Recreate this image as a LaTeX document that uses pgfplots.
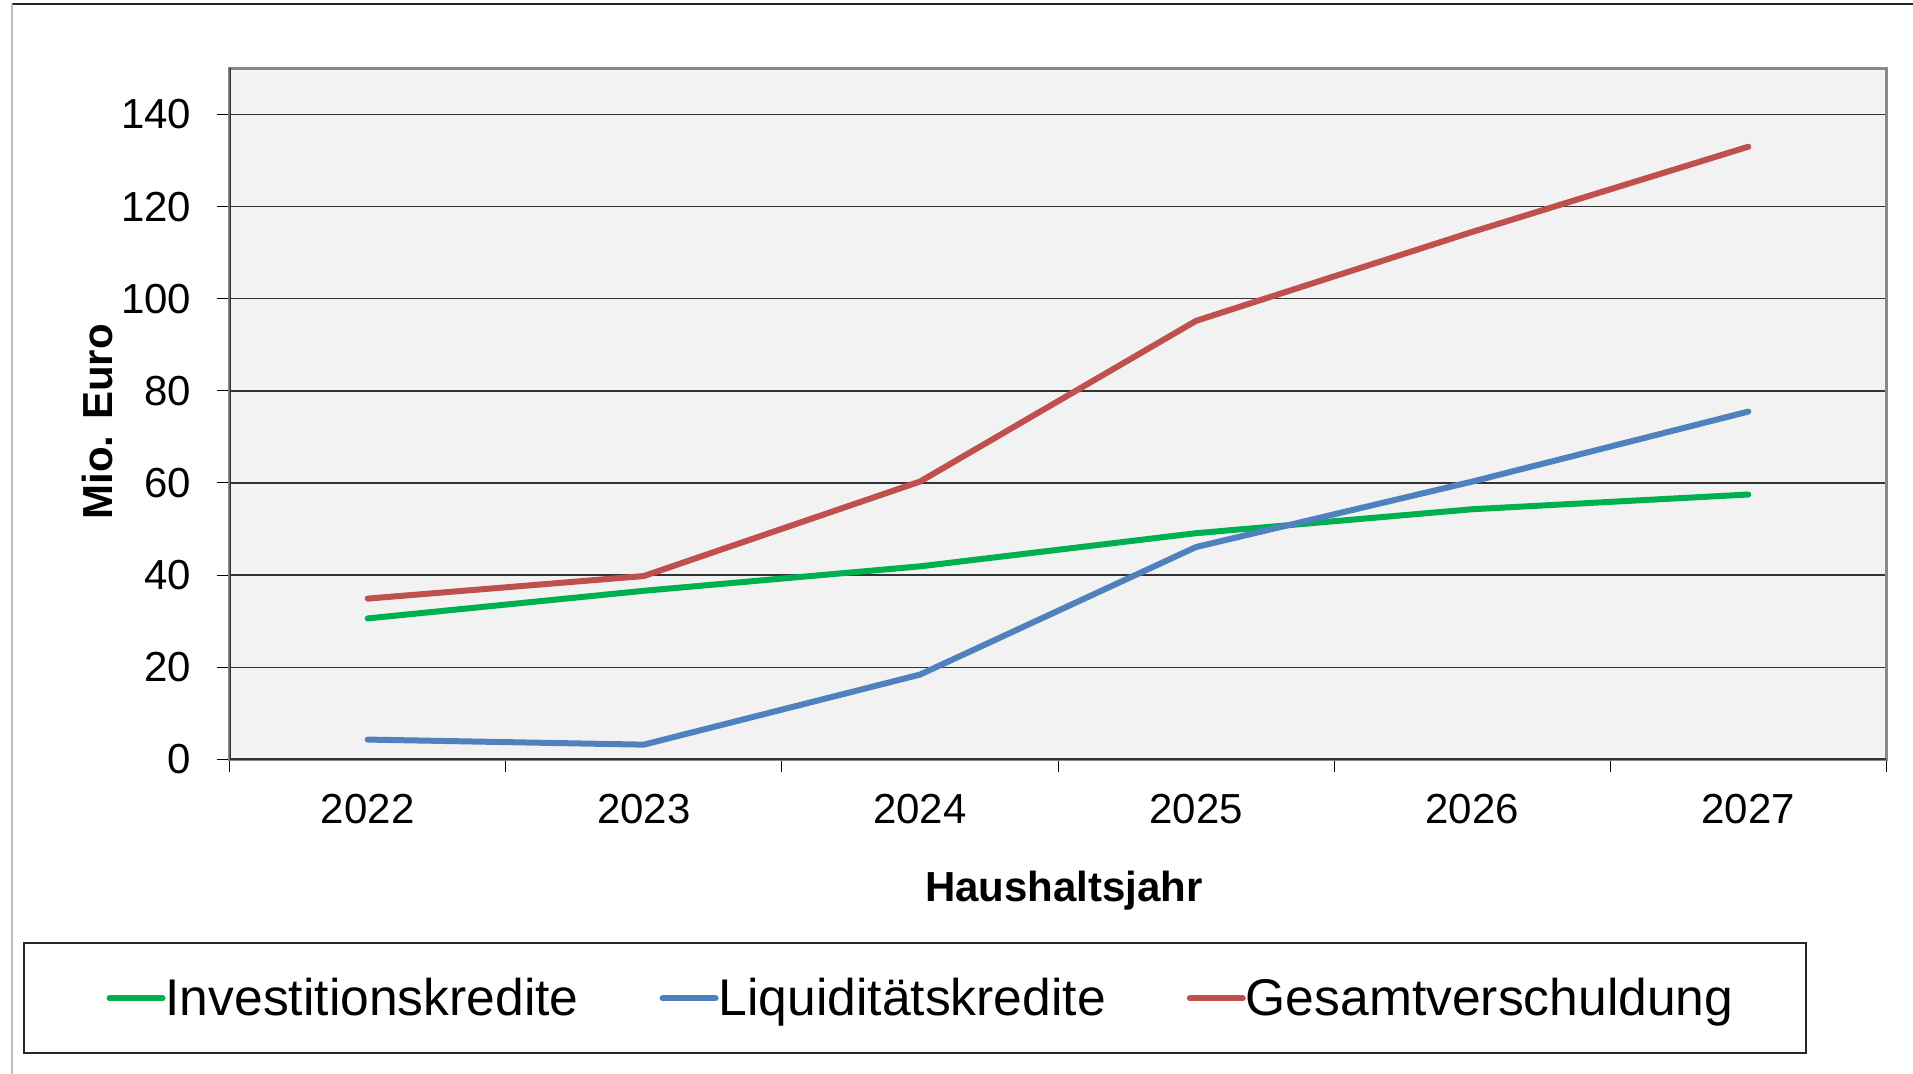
\documentclass[border=0pt]{standalone}
\usepackage{pgfplots}
\pgfplotsset{compat=1.18}
\usepackage{fontspec}
\setmainfont{Liberation Sans}
\definecolor{cgreen}{HTML}{00B050}
\definecolor{cblue}{HTML}{4F81BD}
\definecolor{cred}{HTML}{C0504D}
\definecolor{bgc}{HTML}{F2F2F2}
\definecolor{boxgray}{HTML}{888888}
\begin{document}
\begin{tikzpicture}
\path[use as bounding box] (0pt,0pt) rectangle (956.5pt,537pt);
\draw[black!85, line width=1pt] (6pt,535pt) -- (956.5pt,535pt);
\draw[black!25, line width=0.8pt] (6pt,535pt) -- (6pt,0pt);
\begin{axis}[
  at={(114.8pt,157.3pt)}, anchor=south west,
  scale only axis, width=828.4pt, height=345.5pt,
  xmin=-0.5, xmax=5.5, ymin=0, ymax=150,
  xtick={-0.5,0.5,...,5.5}, xticklabels={,,,,,,,},
  extra x ticks={0,1,2,3,4,5},
  extra x tick labels={2022,2023,2024,2025,2026,2027},
  extra x tick style={major tick length=0pt, grid=none},
  ytick={0,20,...,140},
  tick pos=left,
  tick align=outside,
  major tick length=6.5pt,
  tick style={black, line width=0.5pt},
  ymajorgrids,
  major grid style={black!80, line width=0.7pt},
  axis background/.style={fill=bgc},
  axis line style={boxgray, line width=1.2pt},
  /pgf/number format/assume math mode=true,
  ticklabel style={font=\fontsize{21}{25}\selectfont},
  yticklabel style={inner sep=0pt, xshift=-12.5pt},
  xticklabel style={inner sep=0pt, anchor=base, yshift=-31.95pt},
  every axis x label/.style={at={(axis description cs:0.5,0)}, anchor=base, yshift=-71.2pt, xshift=3pt},
  every axis y label/.style={at={(axis description cs:0,0.5)}, xshift=-58.5pt, yshift=-4pt, anchor=base, rotate=90},
  label style={font=\fontsize{21}{25}\selectfont\bfseries},
  xlabel={Haushaltsjahr},
  ylabel={Mio. Euro},
  legend columns=3,
  legend style={at={(0.4167,-0.3457)}, anchor=center, draw=none, fill=none,
    font=\fontsize{25.8}{30}\selectfont,
    nodes={inner sep=0pt},
    /tikz/every even column/.append style={column sep=40.5pt},
    /tikz/every odd column/.append style={column sep=0pt}},
  legend image code/.code={\draw[#1, line cap=round] (0pt,0pt) -- (26.5pt,0pt);},
  every axis plot/.append style={line width=3pt, line cap=round, line join=round},
]
\draw[black!80, line width=1pt] (rel axis cs:0,1) -- (rel axis cs:0,0) -- (rel axis cs:1,0);
\addplot[cgreen] coordinates {(0,30.6) (1,36.6) (2,41.9) (3,49.1) (4,54.3) (5,57.5)};
\addlegendentry{Investitionskredite}
\addplot[cblue] coordinates {(0,4.3) (1,3.2) (2,18.4) (3,46.1) (4,60.3) (5,75.5)};
\addlegendentry{Liquiditätskredite}
\addplot[cred] coordinates {(0,34.9) (1,39.8) (2,60.3) (3,95.2) (4,114.5) (5,133.0)};
\addlegendentry{Gesamtverschuldung}
\end{axis}
\draw[black!85, line width=1pt] (12.2pt,10.35pt) rectangle (903pt,65.35pt);
\end{tikzpicture}
\end{document}
